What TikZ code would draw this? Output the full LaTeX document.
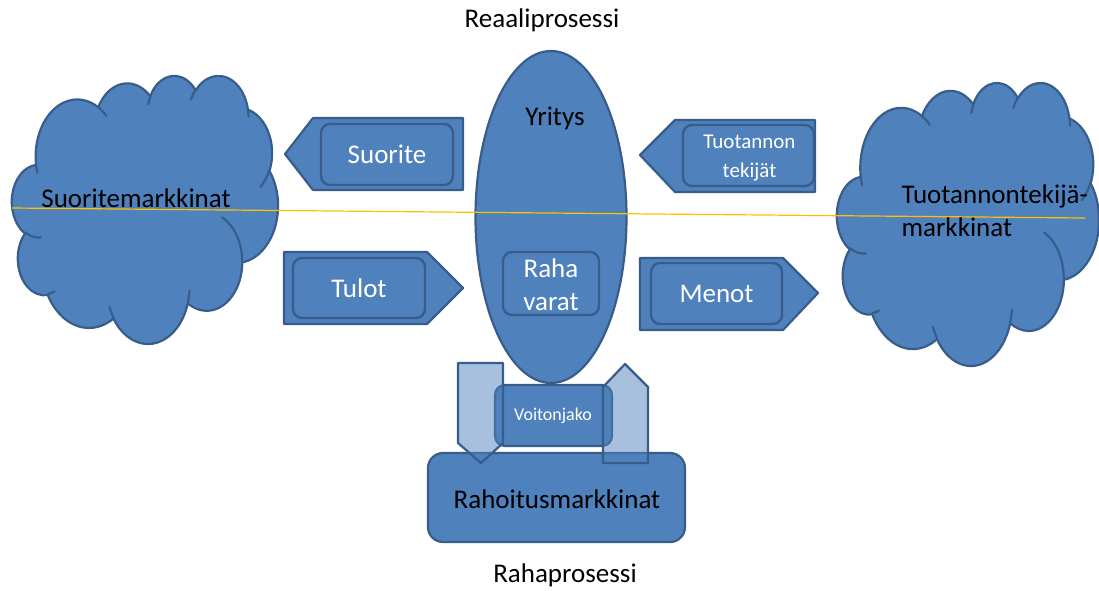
\documentclass[tikz,border=0pt]{standalone}
\usepackage{fontspec}
\setmainfont{Carlito}
\usetikzlibrary{shapes.geometric}
\definecolor{boxfill}{HTML}{4F81BD}
\definecolor{boxline}{HTML}{385D8A}
\definecolor{axisline}{HTML}{FFC000}

% Office-style arcs: the angles are visual angles, converted here to
% the parametric angles TikZ expects.
\makeatletter
\pgfmathdeclarefunction{visang}{3}{%
  \begingroup\pgfmathparse{atan2((#1)*sin(#3),(#2)*cos(#3))}%
  \pgfmath@smuggleone\pgfmathresult\endgroup}
\pgfmathdeclarefunction{visdelta}{4}{%
  \begingroup\pgfmathparse{mod(visang(#1,#2,#3+#4)-visang(#1,#2,#3)+720,360)}%
  \pgfmath@smuggleone\pgfmathresult\endgroup}
\makeatother
\newcommand\oarc[4]{arc[x radius=#1, y radius=#2, start angle={visang(#1,#2,#3)}, delta angle={visdelta(#1,#2,#3,#4)}]}

% cloud outline in a 4320 x 4320 frame
\newcommand\cloudoutline{(390,1437)
  \oarc{675.3}{919.0}{-190.4875}{123.7805}
  \oarc{533.3}{726.7}{-144.1024}{89.9452}
  \oarc{436.5}{594.5}{-145.8079}{99.7230}
  \oarc{485.7}{659.5}{-130.9861}{117.2417}
  \oarc{533.3}{727.3}{-78.7089}{109.0269}
  \oarc{677.5}{922.0}{-46.2673}{130.2690}
  \oarc{578.5}{786.7}{0.6250}{114.0333}
  \oarc{675.2}{921.5}{22.4516}{115.1726}
  \oarc{772.0}{1054.3}{66.2426}{75.7110}
  \oarc{436.0}{591.8}{-274.9421}{146.7356}
  \oarc{434.5}{594.5}{-246.8285}{152.5189} -- cycle}
% the small inner strokes of the cloud
\newcommand\cloudcreases{%
  (469.3,2617.7) \oarc{434.5}{594.5}{86.7420}{26.4295}
  (692.8,3489.9) \oarc{436.0}{591.8}{73.6105}{11.4475}
  (1647.8,3909.0) \oarc{675.2}{921.5}{137.6242}{14.0811}
  (2882.7,3475.1) \oarc{675.2}{921.5}{6.4533}{15.9984}
  (3412.9,2295.4) \oarc{578.5}{786.7}{-70.2924}{70.9174}
  (4179.8,1535.4) \oarc{533.3}{727.3}{30.3180}{27.7515}
  (3832.4,542.6) \oarc{485.7}{659.5}{-13.7443}{14.8589}
  (2907.8,395.2) \oarc{485.7}{659.5}{-149.1815}{18.1954}
  (2214.1,472.0) \oarc{436.5}{594.5}{-163.4943}{17.6864}
  (1400.0,519.2) \oarc{675.3}{919.0}{-66.7070}{12.3194}
  (412.7,1578.9) \oarc{675.3}{919.0}{157.6544}{11.8582}}

\tikzset{
  blueshape/.style={fill=boxfill, draw=boxline, line width=2.2pt, line join=round},
  cloudline/.style={draw=boxline, line width=2.2pt, line cap=round},
  innerbox/.style={rounded corners=9pt, fill=boxfill, draw=boxline, line width=2.4pt, inner sep=0pt},
  flowarrow/.style={fill=boxfill, draw=boxline, line width=2.2pt, line join=round},
  moneyarrow/.style={fill=boxfill, fill opacity=0.5, draw=boxline, line width=2.2pt, line join=round},
  markettext/.style={font=\fontsize{27}{33}\selectfont, text=black, align=left},
  whitetext/.style={font=\fontsize{27}{33}\selectfont, text=white, align=center},
  headtext/.style={font=\fontsize{27}{33}\selectfont, text=black}
}
\begin{document}
\begin{tikzpicture}[x=1pt, y=-1pt]
\useasboundingbox (0,0) rectangle (1099,590);

% product market cloud
\begin{scope}[shift={(12,75)}, x=0.061574pt, y=-0.062037pt]
  \path[blueshape] \cloudoutline;
  \path[cloudline] \cloudcreases;
  \coordinate (suomark) at (2160,2160);
\end{scope}
% factor market cloud
\begin{scope}[shift={(837,82)}, x=0.060648pt, y=-0.065509pt]
  \path[blueshape] \cloudoutline;
  \path[cloudline] \cloudcreases;
  \coordinate (tuomark) at (2160,2160);
\end{scope}

% the firm
\node[ellipse, blueshape, minimum width=151pt, minimum height=332pt, inner sep=0pt] (yritys) at (551,217) {};

% product flow to the left
\draw[flowarrow] (285,154) -- (313,118) -- (463,118) -- (463,190) -- (313,190) -- cycle;
\node[innerbox, minimum width=132pt, minimum height=61pt, whitetext] (suorite) at (387,154.5) {Suorite};

% factors of production
\draw[flowarrow] (640,155) -- (675,120) -- (815,120) -- (815,192) -- (675,192) -- cycle;
\node[innerbox, minimum width=131pt, minimum height=61pt] (tekijat) at (748.5,155.5) {};
\node[whitetext, font=\fontsize{21}{29}\selectfont] (tekijatT) at (749.5,158) {Tuotannon\\tekijät};

% income
\draw[flowarrow] (284,252) -- (427,252) -- (463,288) -- (427,324) -- (284,324) -- cycle;
\node[innerbox, minimum width=132pt, minimum height=60pt, whitetext] (tulot) at (359,288) {Tulot};

% expenses
\draw[flowarrow] (640,258) -- (783,258) -- (818,293) -- (783,330) -- (640,330) -- cycle;
\node[innerbox, minimum width=131pt, minimum height=61pt, whitetext] (menot) at (716.5,293.5) {Menot};

% cash inside the firm
\node[innerbox, minimum width=96pt, minimum height=63pt] (rahavarat) at (551,283.5) {};
\node[whitetext] (rahavaratT) at (551,285) {Raha\\varat};

% financial market and profit distribution
\node[rectangle, rounded corners=15pt, blueshape, minimum width=257pt, minimum height=89pt] (rahoitus) at (556.5,497.5) {};
\node[innerbox, rounded corners=10pt, line width=2.2pt, minimum width=117pt, minimum height=61pt] (voitto) at (553.5,415.5) {};
\draw[moneyarrow] (458,363) -- (503,363) -- (503,443) -- (481,463) -- (458,443) -- cycle;
\draw[moneyarrow] (603,463) -- (603,387) -- (625,364) -- (648,387) -- (648,463) -- cycle;

% dividing line between real and money process
\coordinate (lineL) at (12,208);
\coordinate (lineR) at (1085,218);
\draw[axisline, line width=1.2pt] (lineL) -- (lineR);

% labels
\node[headtext] (reaali) at (542,20) {Reaaliprosessi};
\node[headtext] (rahap) at (565,575) {Rahaprosessi};
\node[headtext] (yritysT) at (555,118) {Yritys};
\node[markettext] (suoT) at (136,198) {Suoritemarkkinat};
\node[markettext, anchor=west] (tuoT) at (898,211) {Tuotannontekijä-\\markkinat};
\node[headtext] (rahoitusT) at (557,499) {Rahoitusmarkkinat};
\node[text=white, font=\fontsize{18}{22}\selectfont] (voittoT) at (553,416) {Voitonjako};
\end{tikzpicture}
\end{document}
